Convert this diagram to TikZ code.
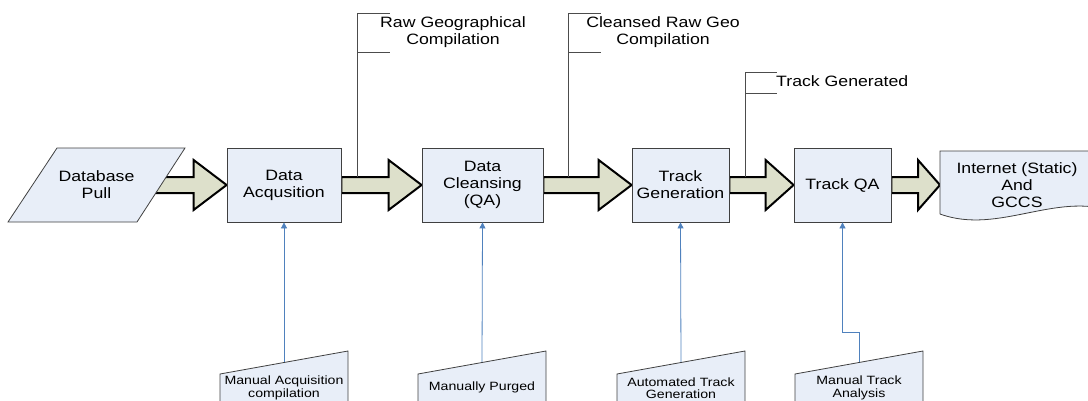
\documentclass[tikz,border=0pt]{standalone}
\usepackage{fontspec}
\setmainfont{Liberation Sans}[FakeStretch=1.18]
\usepackage{tikz}
\usetikzlibrary{calc,backgrounds,arrows.meta}

\definecolor{boxblue}{RGB}{232,238,248}
\definecolor{arrowfill}{RGB}{221,224,203}
\definecolor{linkblue}{RGB}{79,129,189}

\newcommand{\bigtxt}{\fontsize{15}{17}\selectfont}
\newcommand{\smalltxt}{\fontsize{12}{12.5}\selectfont}

% fat block arrow between two points, #3 = head length
\newcommand{\fatarrow}[3]{%
  \draw[blockarrow] let \p1=(#1), \p2=(#2) in
    (\x1,\y1+8pt) -- (\x2-#3pt,\y1+8pt) -- (\x2-#3pt,\y1+25pt) -- (\x2,\y1)
    -- (\x2-#3pt,\y1-25pt) -- (\x2-#3pt,\y1-8pt) -- (\x1,\y1-8pt) -- cycle;}

\tikzset{
  stage/.style={draw=black!75, fill=boxblue, line width=0.8pt,
    minimum height=74pt, align=center, font=\bigtxt, inner sep=0pt},
  outline/.style={draw=black!75, fill=boxblue, line width=0.8pt},
  txt/.style={align=center, font=\bigtxt, inner sep=0pt},
  small/.style={align=center, font=\smalltxt, inner sep=0pt},
  blockarrow/.style={draw=black, fill=arrowfill, line width=2pt, line join=miter},
  callout/.style={draw=black!70, line width=0.7pt},
  feed/.style={draw=linkblue, line width=0.8pt, -{Triangle[length=6pt,width=6pt]}}
}

\begin{document}
\begin{tikzpicture}[x=1pt,y=1pt]
\clip (0,0) rectangle (1088,400);

% process chain
\node[stage, minimum width=114pt] (acq) at (284,215) {Data\\Acqusition};
\node[stage, minimum width=121pt] (clean) at (482.5,215) {Data\\Cleansing\\(QA)};
\node[stage, minimum width=97pt] (trgen) at (680.5,215) {Track\\Generation};
\node[stage, minimum width=97pt] (trqa) at (842.5,215) {Track QA};

% database pull
\draw[outline] (8,178) -- (137,178) -- (185,252) -- (57,252) -- cycle;
\node[txt] (pull) at (96.5,215) {Database\\Pull};
\coordinate (pullR) at (150,215);

% output document
\draw[outline] (940,186) -- (940,249) -- (1120,249) -- (1120,186)
  .. controls (1060,212) and (1000,164) .. (940,186);
\node[txt] (web) at (1017,215) {Internet (Static)\\And\\GCCS};
\coordinate (webL) at (940,215);

\begin{scope}[on background layer]
\fatarrow{pullR}{acq.west}{33}
\fatarrow{acq.east}{clean.west}{33}
\fatarrow{clean.east}{trgen.west}{33}
\fatarrow{trgen.east}{trqa.west}{28}
\fatarrow{trqa.east}{webL}{22}
\end{scope}

% callouts
\node[txt] (rawgeo) at (453,368) {Raw Geographical\\Compilation};
\node[txt] (cleangeo) at (663,368) {Cleansed Raw Geo\\Compilation};
\node[txt, anchor=west] (trgenerated) at (776,319) {Track Generated};

\draw[callout] ($(acq.east)+(16,8)$) -- ++(0,164) -- ++(33,0);
\draw[callout] ($(acq.east)+(16,8)$) ++(0,125) -- ++(33,0);
\draw[callout] ($(clean.east)+(25,8)$) -- ++(0,164) -- ++(33,0);
\draw[callout] ($(clean.east)+(25,8)$) ++(0,125) -- ++(33,0);
\draw[callout] ($(trgen.east)+(16,8)$) -- ++(0,105) -- ++(32,0);
\draw[callout] ($(trgen.east)+(16,8)$) ++(0,84) -- ++(32,0);

% manual inputs
\foreach \xl [count=\i] in {220,418,617,795}{
  \draw[outline] (\xl,-5) -- (\xl,26) -- (\xl+128,49) -- (\xl+128,-5) -- cycle;
  \coordinate (in\i) at (\xl+64,38);
}
\node[small] (manacq) at (284,12) {Manual Acquisition\\compilation};
\node[small] (manpurge) at (482,13) {Manually Purged};
\node[small] (autotrack) at (681,12) {Automated Track\\Generation};
\node[small] (mantrack) at (859,12) {Manual Track\\Analysis};

\draw[feed] (in1) -- (acq.south);
\draw[feed] (in2) -- (clean.south);
\draw[feed] (in3) -- (trgen.south);
\draw[feed] (in4) -- ++(0,30) -| (trqa.south);

\end{tikzpicture}
\end{document}
